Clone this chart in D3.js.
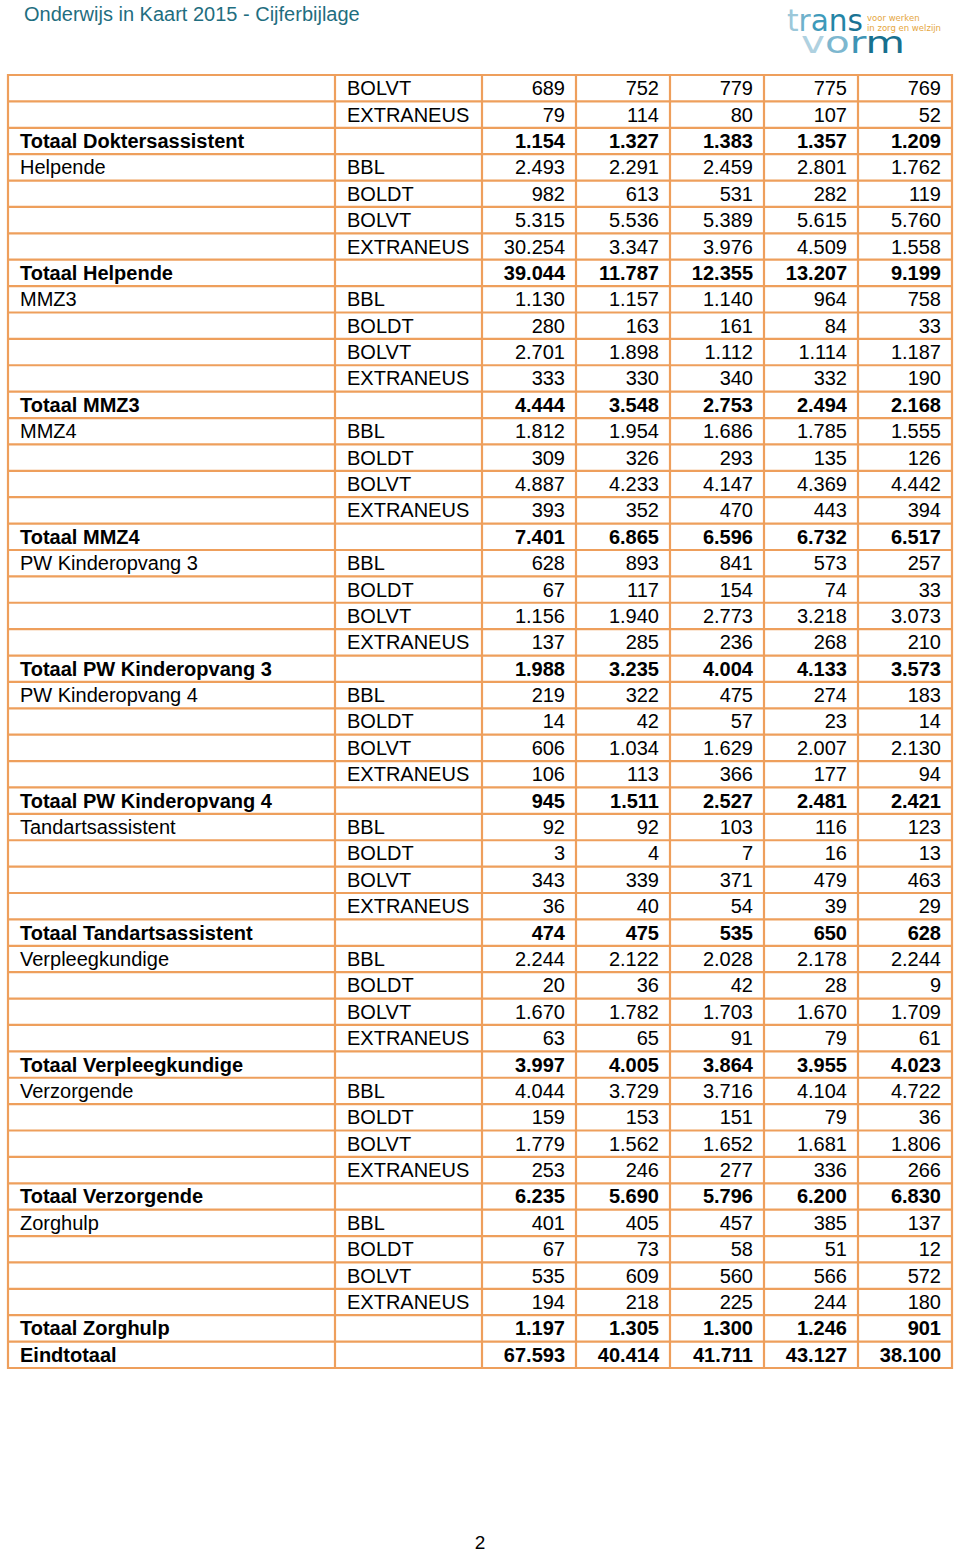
<!DOCTYPE html>
<html><head><meta charset="utf-8">
<script src="https://cdn.jsdelivr.net/npm/d3@7/dist/d3.min.js"></script>
<style>body{margin:0;background:#fff;} svg{display:block;}</style>
</head><body>
<script>
// ---- data ----
const rowLabels = ["", "", "Totaal Doktersassistent",
 "Helpende", "", "", "", "Totaal Helpende",
 "MMZ3", "", "", "", "Totaal MMZ3",
 "MMZ4", "", "", "", "Totaal MMZ4",
 "PW Kinderopvang 3", "", "", "", "Totaal PW Kinderopvang 3",
 "PW Kinderopvang 4", "", "", "", "Totaal PW Kinderopvang 4",
 "Tandartsassistent", "", "", "", "Totaal Tandartsassistent",
 "Verpleegkundige", "", "", "", "Totaal Verpleegkundige",
 "Verzorgende", "", "", "", "Totaal Verzorgende",
 "Zorghulp", "", "", "", "Totaal Zorghulp",
 "Eindtotaal"];
const T4 = ["BBL","BOLDT","BOLVT","EXTRANEUS"];
const rowTypes = ["BOLVT","EXTRANEUS",""].concat(
  ...Array.from({length:9},() => T4.concat([""]))).concat([""]);
const year1 = [689,79,1154, 2493,982,5315,30254,39044, 1130,280,2701,333,4444, 1812,309,4887,393,7401,
  628,67,1156,137,1988, 219,14,606,106,945, 92,3,343,36,474, 2244,20,1670,63,3997, 4044,159,1779,253,6235,
  401,67,535,194,1197, 67593];
const year2 = [752,114,1327, 2291,613,5536,3347,11787, 1157,163,1898,330,3548, 1954,326,4233,352,6865,
  893,117,1940,285,3235, 322,42,1034,113,1511, 92,4,339,40,475, 2122,36,1782,65,4005, 3729,153,1562,246,5690,
  405,73,609,218,1305, 40414];
const year3 = [779,80,1383, 2459,531,5389,3976,12355, 1140,161,1112,340,2753, 1686,293,4147,470,6596,
  841,154,2773,236,4004, 475,57,1629,366,2527, 103,7,371,54,535, 2028,42,1703,91,3864, 3716,151,1652,277,5796,
  457,58,560,225,1300, 41711];
const year4 = [775,107,1357, 2801,282,5615,4509,13207, 964,84,1114,332,2494, 1785,135,4369,443,6732,
  573,74,3218,268,4133, 274,23,2007,177,2481, 116,16,479,39,650, 2178,28,1670,79,3955, 4104,79,1681,336,6200,
  385,51,566,244,1246, 43127];
const year5 = [769,52,1209, 1762,119,5760,1558,9199, 758,33,1187,190,2168, 1555,126,4442,394,6517,
  257,33,3073,210,3573, 183,14,2130,94,2421, 123,13,463,29,628, 2244,9,1709,61,4023, 4722,36,1806,266,6830,
  137,12,572,180,901, 38100];
const yearSeries = [year1, year2, year3, year4, year5];

// ---- layout ----
const W = 960, H = 1552;
const colEdges = [8, 335, 482, 576, 670, 764, 858, 952];
const tableTop = 75, tableBottom = 1368;
const border = "#EE9F5C";

const svg = d3.select("body").append("svg").attr("width", W).attr("height", H)
  .style("font-family", "'Liberation Sans', Arial, sans-serif");

// header
svg.append("text").attr("x", 24).attr("y", 21).attr("fill", "#1F6E80")
  .style("font-size", "20px").text("Onderwijs in Kaart 2015 - Cijferbijlage");

// logo
const logo = svg.append("g").style("font-family", "'DejaVu Sans', sans-serif");
const t1 = logo.append("text").attr("x", 787).attr("y", 31).style("font-size", "31px")
  .attr("textLength", 76).attr("lengthAdjust", "spacingAndGlyphs");
[["t","#9CC8DA"],["r","#6EB1CB"],["a","#3E9ABA"],["n","#2385A6"],["s","#1A7394"]]
  .forEach(([c, col]) => t1.append("tspan").attr("fill", col).text(c));
const t2 = logo.append("text").attr("x", 801).attr("y", 53).style("font-size", "31px")
  .attr("textLength", 104).attr("lengthAdjust", "spacingAndGlyphs");
[["v","#AFD1E0"],["o","#7DB7CF"],["r","#3E94B5"],["m","#17708F"]]
  .forEach(([c, col]) => t2.append("tspan").attr("fill", col).text(c));
logo.append("text").attr("x", 867).attr("y", 21).style("font-size", "8.5px")
  .attr("fill", "#E5A640").text("voor werken");
logo.append("text").attr("x", 867).attr("y", 31).style("font-size", "8.5px")
  .attr("fill", "#E5A640").text("in zorg en welzijn");

// scales
const y = d3.scaleBand().domain(d3.range(rowLabels.length)).range([tableTop, tableBottom]);
const fmt = d3.formatLocale({decimal: ",", thousands: ".", grouping: [3], currency: ["€", ""]}).format(",d");
const isBold = i => rowLabels[i].startsWith("Totaal") || rowLabels[i] === "Eindtotaal";

const rows = svg.append("g").selectAll("g").data(d3.range(rowLabels.length)).join("g")
  .attr("transform", i => `translate(0,${y(i)})`)
  .style("font-size", "20px").style("font-weight", i => isBold(i) ? "bold" : "normal");

rows.append("text").attr("x", colEdges[0] + 12).attr("y", y.bandwidth() / 2 + 7)
  .attr("fill", "#000").text(i => rowLabels[i]);
rows.append("text").attr("x", colEdges[1] + 12).attr("y", y.bandwidth() / 2 + 7)
  .attr("fill", "#000").style("font-weight", "normal").text(i => rowTypes[i]);
yearSeries.forEach((ser, k) => {
  rows.append("text").attr("x", colEdges[k + 3] - 11).attr("y", y.bandwidth() / 2 + 7)
    .attr("text-anchor", "end").attr("fill", "#000").text(i => fmt(ser[i]));
});

// grid lines
const grid = svg.append("g").attr("stroke", border).attr("stroke-width", 2.2);
grid.selectAll("line.h").data(d3.range(rowLabels.length + 1)).join("line")
  .attr("x1", colEdges[0]).attr("x2", colEdges[colEdges.length - 1])
  .attr("y1", i => i < rowLabels.length ? y(i) : tableBottom)
  .attr("y2", i => i < rowLabels.length ? y(i) : tableBottom);
grid.selectAll("line.v").data(colEdges).join("line")
  .attr("x1", d => d).attr("x2", d => d).attr("y1", tableTop - 1.1).attr("y2", tableBottom + 1.1);

// page number
svg.append("text").attr("x", 480).attr("y", 1549).attr("text-anchor", "middle")
  .style("font-size", "19px").attr("fill", "#000").text("2");
</script>
</body></html>
